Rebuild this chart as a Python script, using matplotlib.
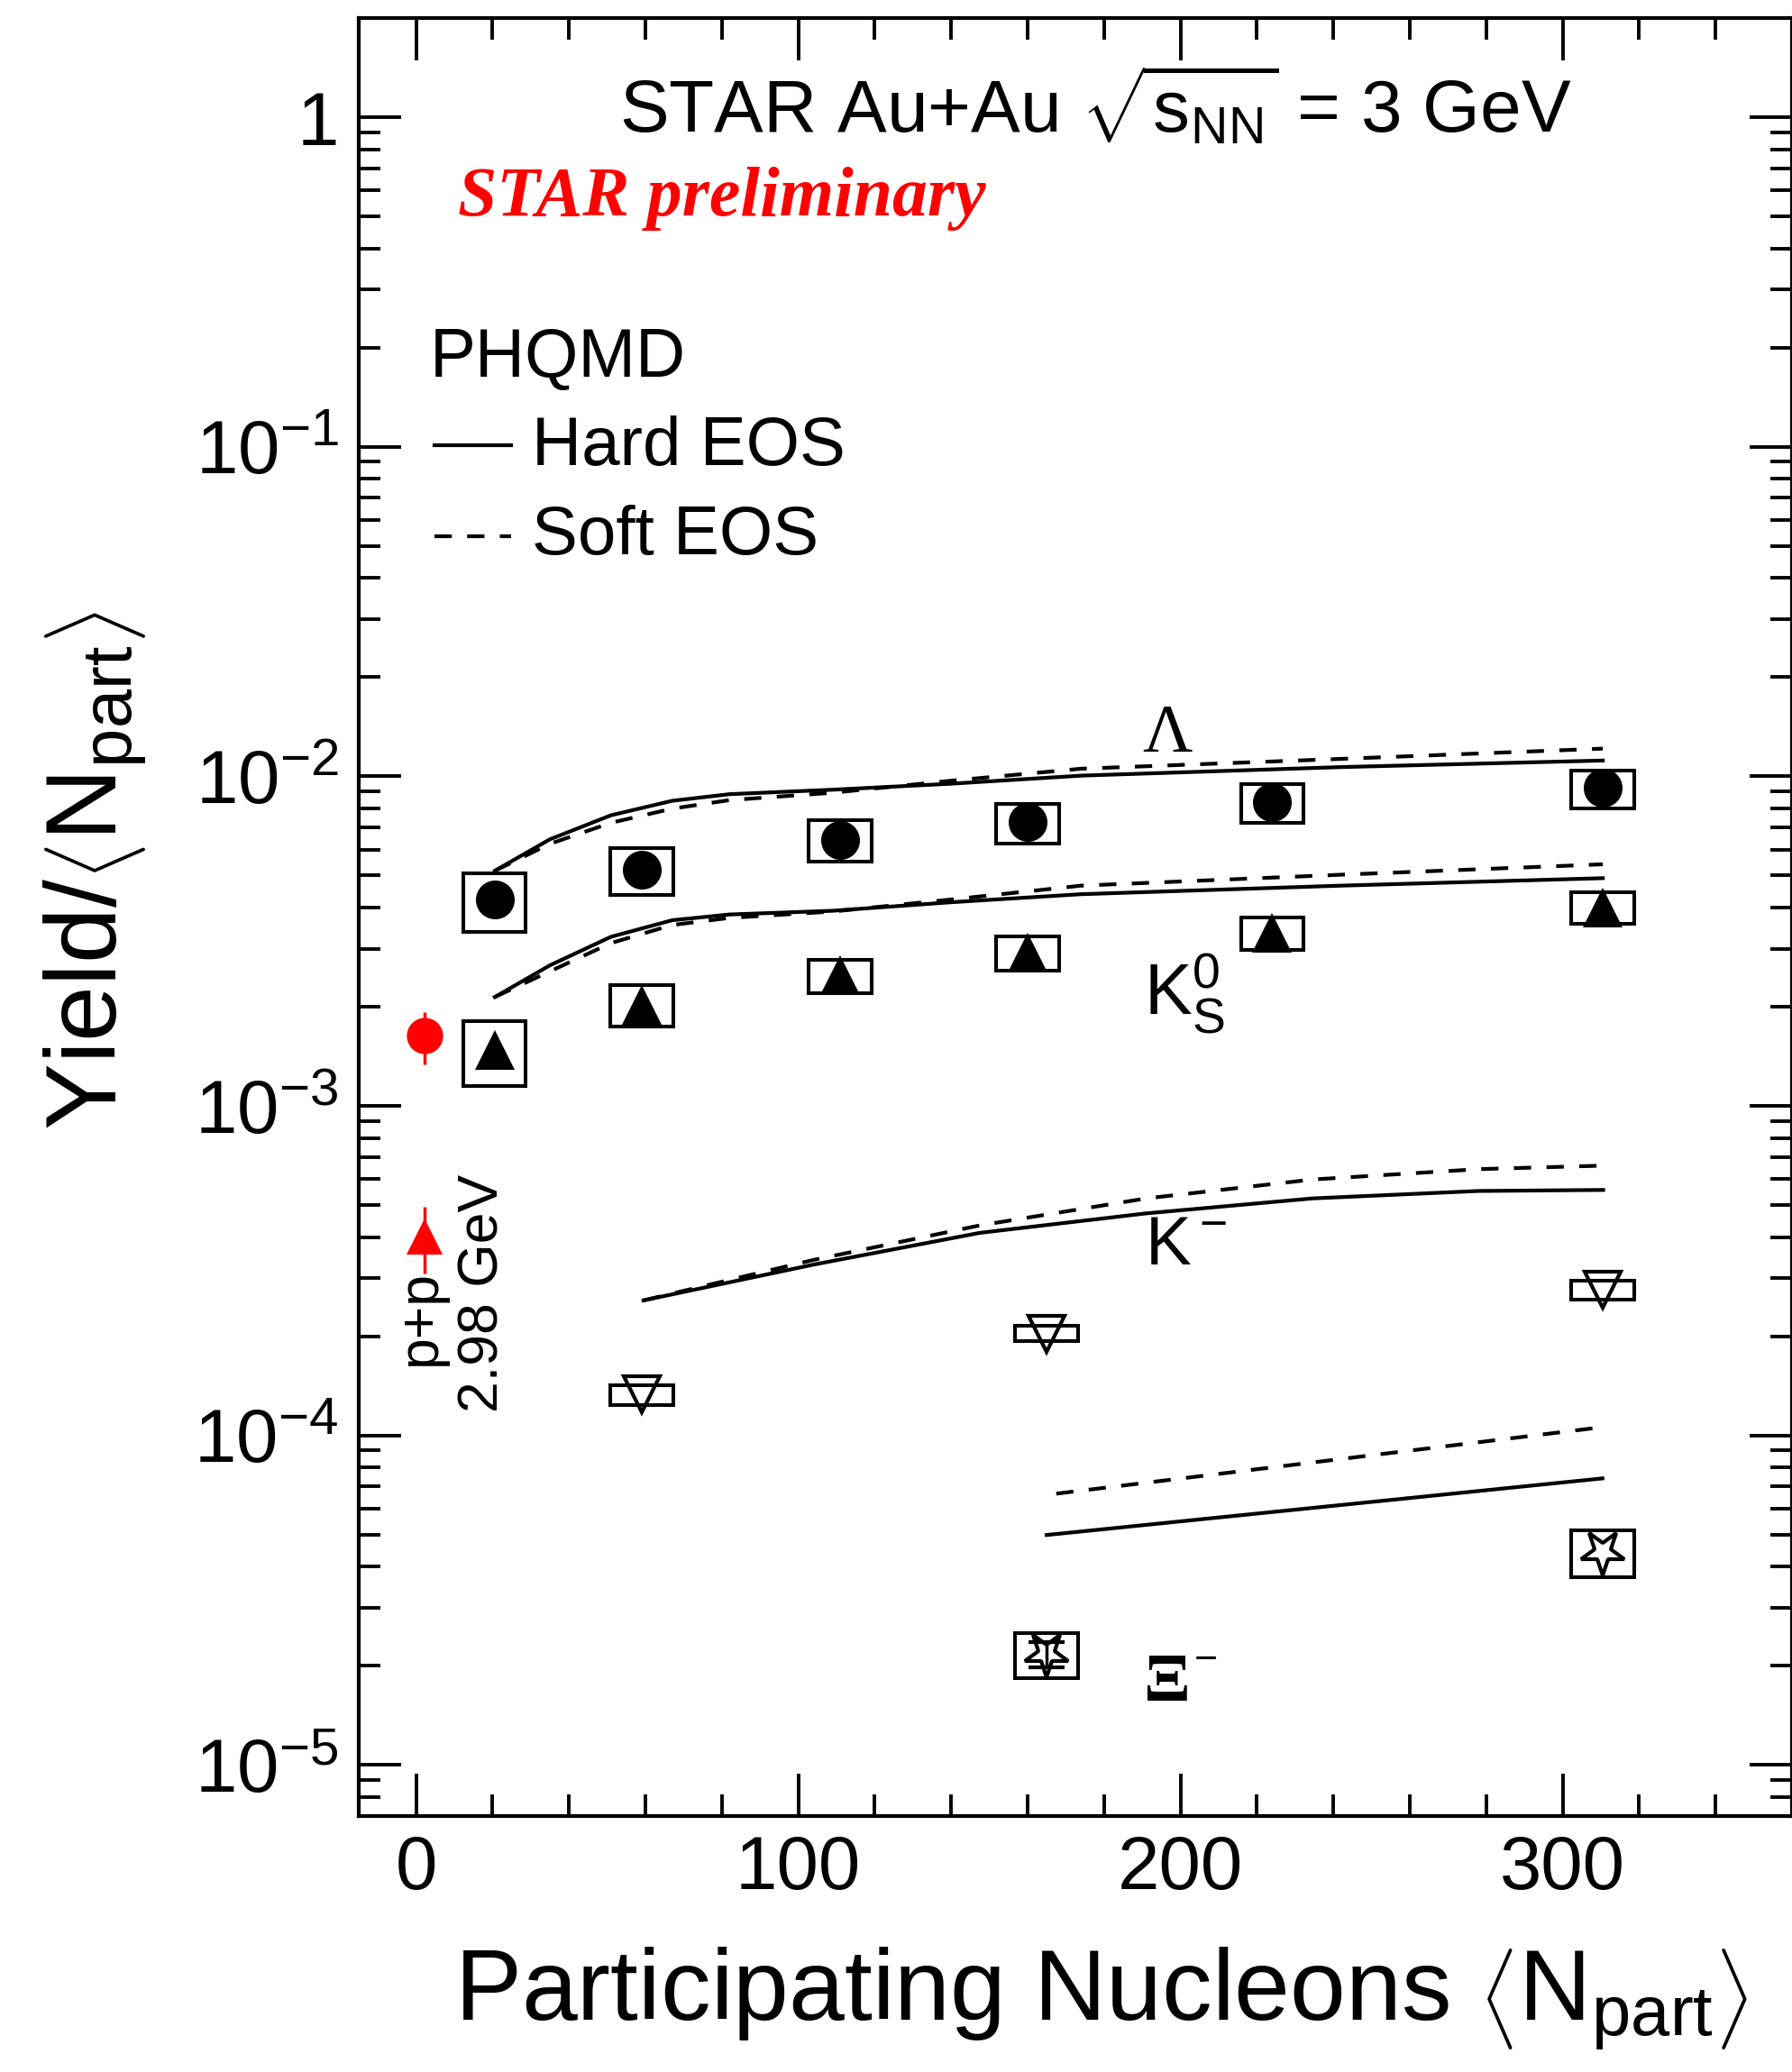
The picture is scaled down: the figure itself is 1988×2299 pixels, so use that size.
import numpy as np
import matplotlib
matplotlib.use('Agg')
import matplotlib.pyplot as plt
from matplotlib.patches import Rectangle
from matplotlib.markers import MarkerStyle
from matplotlib.transforms import Affine2D
from matplotlib.ticker import FixedLocator, MultipleLocator, FuncFormatter, LogLocator, NullFormatter

plt.rcParams['font.family'] = ['Liberation Sans', 'DejaVu Sans']
plt.rcParams['mathtext.fontset'] = 'custom'
plt.rcParams['mathtext.rm'] = 'Liberation Sans'
plt.rcParams['mathtext.it'] = 'Liberation Sans:italic'
plt.rcParams['mathtext.bf'] = 'Liberation Sans:bold'

# Au+Au 3 GeV strange hadron yields per participant
npart = [20.5, 59, 111, 160, 224, 310.5]
lam = [4.22e-3, 5.22e-3, 6.43e-3, 7.25e-3, 8.33e-3, 9.21e-3]
lam_sys = [0.85e-3, 0.85e-3, 0.92e-3, 0.98e-3, 1.12e-3, 1.2e-3]
k0s = [1.48e-3, 2.03e-3, 2.49e-3, 2.92e-3, 3.35e-3, 4.0e-3]
k0s_sys = [0.33e-3, 0.29e-3, 0.29e-3, 0.34e-3, 0.38e-3, 0.44e-3]

npart_km = [59, 165, 310.5]
km = [1.33e-4, 2.04e-4, 2.77e-4]
km_sys = [0.09e-4, 0.11e-4, 0.18e-4]

npart_xi = [165, 310.5]
xi = [2.17e-5, 4.43e-5]
xi_stat = [0.19e-5, 0.0]
xi_sys = [0.34e-5, 0.72e-5]

# p+p at 2.98 GeV
npart_pp = 2.1
pp_lam, pp_lam_err = 1.63e-3, 0.29e-3
pp_k0s, pp_k0s_err = 4.02e-4, 0.92e-4

# PHQMD, hard and soft EOS
mod_n = [20.6, 35, 51, 67, 82, 109, 140, 174, 242, 310.5]
lam_hard = [5.17e-3, 6.44e-3, 7.62e-3, 8.43e-3, 8.83e-3, 9.11e-3, 9.5e-3, 1.005e-2, 1.067e-2, 1.117e-2]
lam_soft = [5.17e-3, 6.24e-3, 7.23e-3, 7.98e-3, 8.47e-3, 8.92e-3, 9.7e-3, 1.055e-2, 1.13e-2, 1.214e-2]
k0s_hard = [2.14e-3, 2.67e-3, 3.26e-3, 3.66e-3, 3.81e-3, 3.91e-3, 4.15e-3, 4.39e-3, 4.66e-3, 4.91e-3]
k0s_soft = [2.14e-3, 2.56e-3, 3.12e-3, 3.54e-3, 3.72e-3, 3.89e-3, 4.23e-3, 4.66e-3, 5.03e-3, 5.41e-3]
km_mod_n = [59.5, 104, 147.5, 191, 234.5, 278, 310.6]
km_hard = [2.57e-4, 3.30e-4, 4.12e-4, 4.72e-4, 5.24e-4, 5.52e-4, 5.56e-4]
km_soft = [2.57e-4, 3.41e-4, 4.34e-4, 5.24e-4, 5.98e-4, 6.43e-4, 6.59e-4]
xi_hard_n = [165, 310.4]
xi_hard = [4.99e-5, 7.41e-5]
xi_soft_n = [167.5, 310.4]
xi_soft = [6.66e-5, 1.06e-4]

fig = plt.figure(figsize=(19.88, 22.99), dpi=100)
ax = fig.add_axes([0.2002, 0.1235, 0.7998, 0.8678])
ax.set_yscale('log')
ax.set_xlim(-15, 360)
ax.set_ylim(7e-6, 2)

lw = 3
dash = (0, (4.6, 4.1))
for y_h, y_s, xx in [(lam_hard, lam_soft, mod_n), (k0s_hard, k0s_soft, mod_n),
                     (km_hard, km_soft, km_mod_n)]:
    ax.plot(xx, y_h, color='k', lw=lw, zorder=2)
    ax.plot(xx, y_s, color='k', lw=lw, ls=dash, zorder=2)
ax.plot(xi_hard_n, xi_hard, color='k', lw=lw, zorder=2)
ax.plot(xi_soft_n, xi_soft, color='k', lw=lw, ls=dash, zorder=2)

# systematic boxes
def sys_boxes(xs, ys, es, hw=8.2):
    for x, y, e in zip(xs, ys, es):
        ax.add_patch(Rectangle((x - hw, y - e), 2 * hw, 2 * e, fill=False,
                               ec='k', lw=2.9, zorder=3))

sys_boxes(npart, lam, lam_sys)
sys_boxes(npart, k0s, k0s_sys)
sys_boxes(npart_km, km, km_sys)
sys_boxes(npart_xi, xi, xi_sys)

ax.plot(npart, lam, 'o', color='k', ms=31, mew=0, zorder=4)
ax.plot(npart, k0s, '^', color='k', ms=31, mew=0, zorder=4)
ax.plot(npart_km, km, 'v', color='k', mfc='none', ms=29, mew=3, zorder=4)
star = MarkerStyle('*', fillstyle='none', transform=Affine2D().rotate_deg(180))
ax.plot(npart_xi, xi, ls='none', marker=star, color='k', ms=37, mew=3, zorder=4)
for x, y, e in zip(npart_xi, xi, xi_stat):
    if e > 0:
        ax.errorbar(x, y, yerr=e, fmt='none', ecolor='k', elinewidth=2.5,
                    capsize=14.4, capthick=3, zorder=4)

ax.errorbar(npart_pp, pp_lam, yerr=pp_lam_err, fmt='o', color='red', ms=29,
            mew=0, elinewidth=2.5, capsize=14.8, capthick=3, zorder=4)
ax.errorbar(npart_pp, pp_k0s, yerr=pp_k0s_err, fmt='^', color='red', ms=29,
            mew=0, elinewidth=2.5, capsize=14.8, capthick=3, zorder=4)

# axes style
for s in ax.spines.values():
    s.set_linewidth(3)
ax.xaxis.set_major_locator(MultipleLocator(100))
ax.xaxis.set_minor_locator(MultipleLocator(20))
ax.yaxis.set_major_locator(FixedLocator([1e-5, 1e-4, 1e-3, 1e-2, 1e-1, 1]))
ax.yaxis.set_minor_locator(LogLocator(base=10, subs=np.arange(2, 10), numticks=20))
ax.yaxis.set_minor_formatter(NullFormatter())

def ylab(v, pos):
    if v == 1:
        return '1'
    return r'$\mathregular{10^{%d}}$' % int(round(np.log10(v)))

ax.yaxis.set_major_formatter(FuncFormatter(ylab))
ax.tick_params(which='both', direction='in', top=True, right=True, width=2.8,
               labelsize=60)
ax.tick_params(which='major', length=34)
ax.tick_params(which='minor', length=17)
ax.tick_params(axis='x', pad=14)
ax.tick_params(axis='y', pad=16)

fig.text(0.6142, 0.0252, r'Participating Nucleons $\left\langle\mathrm{N}_{\mathrm{part}}\right\rangle$',
         ha='center', va='baseline', fontsize=80)
fig.text(0.0530, 0.5800, r'Yield/$\left\langle\mathrm{N}_{\mathrm{part}}\right\rangle$',
         ha='center', va='center', rotation=90, fontsize=80)

ax.text(0.182, 0.9363, r'STAR Au+Au $\sqrt{\mathrm{s}_{\mathrm{NN}}}$ = 3 GeV',
        transform=ax.transAxes, ha='left', va='baseline', fontsize=59)
ax.text(0.0692, 0.890, 'STAR preliminary', transform=ax.transAxes, ha='left',
        va='baseline', fontsize=56, color='red', family='Liberation Serif',
        style='italic', weight='bold')

# model legend
ax.text(0.0497, 0.801, 'PHQMD', transform=ax.transAxes, ha='left', va='baseline', fontsize=55)
ax.plot([0.0531, 0.1061], [0.7622, 0.7622], color='k', lw=lw, transform=ax.transAxes)
ax.text(0.1208, 0.7516, 'Hard EOS', transform=ax.transAxes, ha='left', va='baseline', fontsize=55)
ax.plot([0.0531, 0.1061], [0.7118, 0.7118], color='k', lw=lw, ls=dash, transform=ax.transAxes)
ax.text(0.1208, 0.702, 'Soft EOS', transform=ax.transAxes, ha='left', va='baseline', fontsize=55)

# species labels
ax.text(189.9, 1.19e-2, 'Λ', ha='left', va='baseline', fontsize=55, family='Liberation Serif')
ax.text(190.4, 1.89e-3, r'$\mathregular{K^0_S}$', ha='left', va='baseline', fontsize=57)
ax.text(190.6, 3.30e-4, r'$\mathregular{K^-}$', ha='left', va='baseline', fontsize=55)
ax.text(190.4, 1.57e-5, 'Ξ', ha='left', va='baseline', fontsize=55,
        family='Liberation Serif', weight='bold')
ax.text(203.5, 2.07e-5, '−', ha='left', va='center', fontsize=32)

ax.text(0.0430, 0.2772, 'p+p', transform=ax.transAxes, rotation=90,
        ha='center', va='center', fontsize=45)
ax.text(0.0865, 0.2907, '2.98 GeV', transform=ax.transAxes, rotation=90,
        ha='center', va='center', fontsize=45)

fig.savefig('out.png', dpi=100)
